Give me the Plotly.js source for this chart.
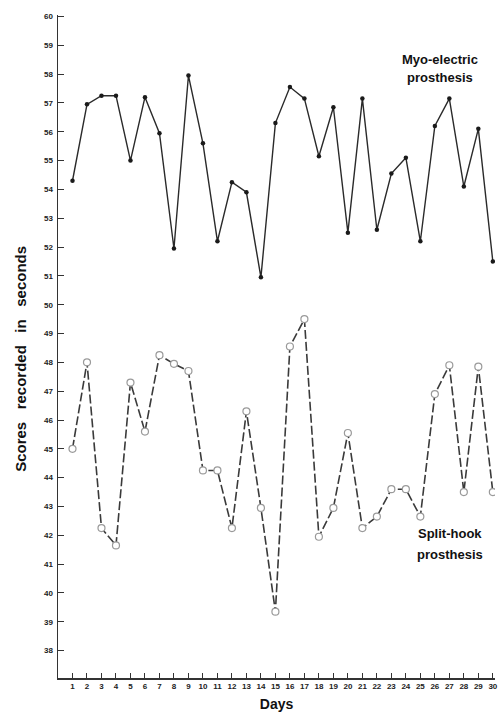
<!DOCTYPE html>
<html>
<head>
<meta charset="utf-8">
<script src="https://cdn.plot.ly/plotly-3.0.1.min.js"></script>
<style>html,body{margin:0;padding:0;background:#fff;}#chart{width:503px;height:716px;}</style>
</head>
<body>
<div id="chart"></div>
<script>
const days = [1,2,3,4,5,6,7,8,9,10,11,12,13,14,15,16,17,18,19,20,21,22,23,24,25,26,27,28,29,30];
const myoElectric = [54.3,56.95,57.25,57.25,55.0,57.2,55.95,51.95,57.95,55.6,52.2,54.25,53.9,50.95,56.3,57.55,57.15,55.15,56.85,52.5,57.15,52.6,54.55,55.1,52.2,56.2,57.15,54.1,56.1,51.5];
const splitHook = [45.0,48.0,42.25,41.65,47.3,45.6,48.25,47.95,47.7,44.25,44.25,42.25,46.3,42.95,39.35,48.55,49.5,41.95,42.95,45.55,42.25,42.65,43.6,43.6,42.65,46.9,47.9,43.5,47.85,43.5];
const yTicks = [38,39,40,41,42,43,44,45,46,47,48,49,50,51,52,53,54,55,56,57,58,59,60];
const seriesNames = ['Myo-electric prosthesis','Split-hook prosthesis'];

const fam = 'Liberation Sans, Arial, sans-serif';
const tickFont = {family:fam, size:8, color:'#222', weight:700};
const labFont = {family:fam, size:13, color:'#111', weight:700};
const data = [
  {x:days, y:myoElectric, name:seriesNames[0], mode:'lines+markers', type:'scatter',
   line:{color:'#2a2a2a', width:1.4},
   marker:{symbol:'circle', size:4.5, color:'#1a1a1a'}},
  {x:days, y:splitHook, name:seriesNames[1], mode:'lines+markers', type:'scatter',
   line:{color:'#3a3a3a', width:1.6, dash:'9px,3px'},
   marker:{symbol:'circle', size:7, color:'#ffffff', line:{color:'#9a9a9a', width:1.2}}}
];
const layout = {
  width:503, height:716,
  margin:{l:58, r:8, t:15, b:38},
  paper_bgcolor:'#fff', plot_bgcolor:'#fff',
  showlegend:false,
  xaxis:{range:[0,30.15], tickvals:days, ticktext:days.map(String), ticks:'inside', ticklen:5, tickwidth:1, tickcolor:'#333',
    showgrid:false, zeroline:false, showline:true, linecolor:'#333', linewidth:1.5, tickfont:tickFont,
    title:{text:'Days', font:{family:fam, size:14, color:'#111', weight:700}, standoff:9}},
  yaxis:{range:[37.05,60.05], tickvals:yTicks, ticks:'inside', ticklen:6, tickwidth:1, tickcolor:'#333',
    showgrid:false, zeroline:false, showline:true, linecolor:'#333', linewidth:1.5, tickfont:tickFont, ticklabelstandoff:2},
  annotations:[
    {xref:'paper', yref:'paper', x:-0.086, y:0.482, text:'Scores\u00A0\u00A0 recorded\u00A0\u00A0 in\u00A0\u00A0 seconds', textangle:-90, showarrow:false,
     xanchor:'center', yanchor:'middle', font:{family:fam, size:15, color:'#111', weight:700}},
    {xref:'paper', yref:'paper', x:0.873, y:0.9335, text:'Myo-electric', showarrow:false, xanchor:'center', yanchor:'middle', font:labFont},
    {xref:'paper', yref:'paper', x:0.873, y:0.905, text:'prosthesis', showarrow:false, xanchor:'center', yanchor:'middle', font:labFont},
    {xref:'paper', yref:'paper', x:0.897, y:0.2187, text:'Split-hook', showarrow:false, xanchor:'center', yanchor:'middle', font:labFont},
    {xref:'paper', yref:'paper', x:0.897, y:0.187, text:'prosthesis', showarrow:false, xanchor:'center', yanchor:'middle', font:labFont}
  ]
};
Plotly.newPlot('chart', data, layout, {displayModeBar:false, staticPlot:true});
</script>
</body>
</html>
